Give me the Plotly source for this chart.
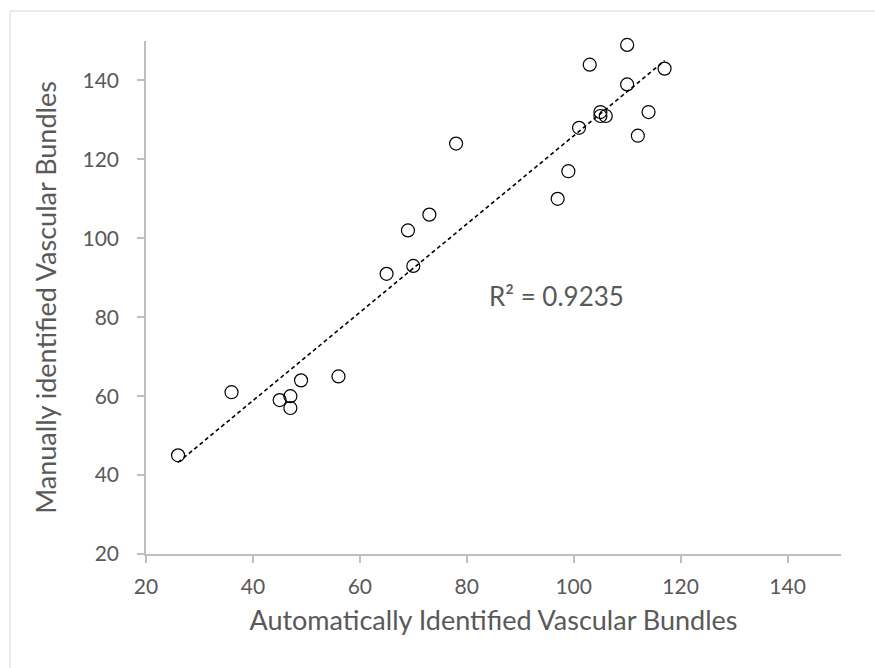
import numpy as np
import plotly.graph_objects as go

auto_vb = [26, 36, 45, 47, 47, 49, 56, 65, 69, 70, 73, 78, 97, 99, 101, 103,
           105, 105, 106, 110, 110, 112, 114, 117]
manual_vb = [45, 61, 59, 60, 57, 64, 65, 91, 102, 93, 106, 124, 110, 117, 128, 144,
             132, 131, 131, 149, 139, 126, 132, 143]
r2_label = "R² = 0.9235"
x_ticks = [20, 40, 60, 80, 100, 120, 140]
y_ticks = [20, 40, 60, 80, 100, 120, 140]
x_title = "Automatically Identified Vascular Bundles"
y_title = "Manually identified Vascular Bundles"

FONT = "Lato"
GREY = "#595959"
AXIS = "#bfbfbf"

x = np.array(auto_vb, dtype=float)
y = np.array(manual_vb, dtype=float)
slope, intercept = np.polyfit(x, y, 1)
tx = np.array([x.min(), x.max()])
ty = slope * tx + intercept

fig = go.Figure()
fig.add_trace(go.Scatter(
    x=auto_vb, y=manual_vb, mode="markers", cliponaxis=False,
    marker=dict(symbol="circle-open", size=13, color="black", line=dict(width=1.2, color="black")),
    showlegend=False, hoverinfo="x+y"))
fig.add_trace(go.Scatter(
    x=tx, y=ty, mode="lines",
    line=dict(color="black", width=1.6, dash="4px,3px"),
    showlegend=False, hoverinfo="skip"))

L, R, T, B = 146, 34, 41, 114
W, H = 875, 668
pw, ph = W - L - R, H - T - B

fig.update_layout(
    width=W, height=H,
    margin=dict(l=L, r=R, t=T, b=B),
    paper_bgcolor="white", plot_bgcolor="white",
    font=dict(family=FONT, color=GREY),
    xaxis=dict(range=[20, 150], tickvals=x_ticks, showgrid=False, zeroline=False,
               showline=True, linecolor=AXIS, linewidth=1.5,
               ticks="outside", ticklen=7, tickcolor=AXIS, tickwidth=1.5,
               tickfont=dict(size=21, color=GREY, family=FONT),
               ticklabelstandoff=6,
               title=dict(text=x_title, font=dict(size=27, color=GREY, family=FONT), standoff=14)),
    yaxis=dict(range=[20, 150], tickvals=y_ticks, showgrid=False, zeroline=False,
               showline=True, linecolor=AXIS, linewidth=1.5,
               ticks="outside", ticklen=7, tickcolor=AXIS, tickwidth=1.5,
               tickfont=dict(size=21, color=GREY, family=FONT),
               ticklabelstandoff=14,
               title=dict(text=y_title, font=dict(size=27, color=GREY, family=FONT), standoff=18)),
    annotations=[dict(x=96.8, y=85.5, xref="x", yref="y", text=r2_label, showarrow=False,
                      font=dict(size=26, color=GREY, family=FONT))],
    shapes=[dict(type="rect", xref="paper", yref="paper",
                 x0=(10 - L) / pw, x1=(W + 10 - L) / pw,
                 y0=-(H + 10 - (T + ph)) / ph, y1=(T + ph - 11) / ph,
                 line=dict(color="#d9d9d9", width=1), layer="below")],
)

fig.write_html("out.html")
